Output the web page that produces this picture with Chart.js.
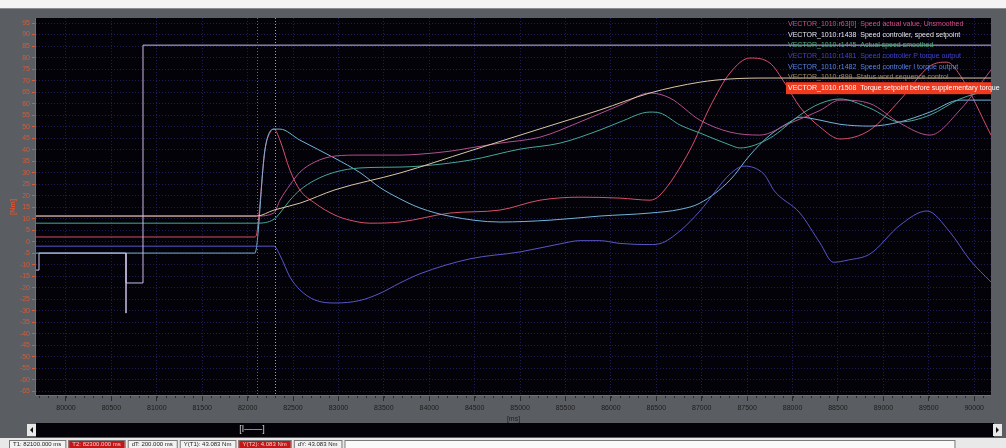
<!DOCTYPE html>
<html>
<head>
<meta charset="utf-8">
<script src="https://cdn.jsdelivr.net/npm/chart.js@4.4.1/dist/chart.umd.min.js"></script>
<style>
html,body{margin:0;padding:0;background:#5a5d62;overflow:hidden}
#wrap{position:relative;width:1006px;height:448px}
</style>
</head>
<body>
<div id="wrap"><canvas id="trace" width="1006" height="448"></canvas></div>
<script>
// axis ticks
const xTicks = [80000,80500,81000,81500,82000,82500,83000,83500,84000,84500,85000,85500,86000,86500,87000,87500,88000,88500,89000,89500,90000];
const yTicks = [95,90,85,80,75,70,65,60,55,50,45,40,35,30,25,20,15,10,5,0,-5,-10,-15,-20,-25,-30,-35,-40,-45,-50,-55,-60,-65];
const xMin = 79670, xMax = 90185;
const yMin = -66.7, yMax = 97.2;

// measuring cursors [ms]
const cursorT1 = 82100;
const cursorT2 = 82300;

// r63[0] speed actual value, unsmoothed
const tR63 = [79670,82100,82290,82356,82466,82576,82741,82962,83237,83677,83898,84228,84448,84778,85219,85659,86100,86430,86650,86980,87311,87640,87971,88302,88522,88852,89182,89513,89843,90185];
const vR63 = [11.1,11.1,12.5,18,24.6,30.2,34.6,37.2,37.6,37.6,38,39.3,40.7,42.8,45.4,52,59.3,64.6,62.4,52.8,47.6,46.3,51.5,57,61.5,60,51.5,46.3,57.2,74.6];

// r1438 speed controller, speed setpoint (step)
const tR1438 = [79670,79703,79703,80661,80661,80661,80848,80848,90185];
const vR1438 = [-12.4,-12.4,-5,-5,-31.1,-18,-18,85.4,85.4];

// r1445 actual speed smoothed
const tR1445 = [79670,82100,82290,82356,82466,82576,82741,82962,83237,83677,83898,84448,84999,85439,85879,86100,86430,86540,86760,86980,87311,87420,87751,88081,88302,88522,88852,89182,89513,89843,90185];
const vR1445 = [8,8,9.7,12.4,18,22.4,26.7,30.2,32,32.4,32.8,35.4,40.2,42.8,48.5,52,56.3,55.9,50.7,47.2,42,40.7,45,55,60,62,58,52,55,62,66];

// r1481 speed controller P torque output
const tR1481 = [79670,82250,82290,82356,82466,82576,82741,82962,83237,83457,83677,83898,84448,84999,85439,85659,85879,86100,86430,86540,86760,86980,87311,87465,87685,87800,88081,88302,88450,88615,88852,89182,89480,89733,89953,90185];
const vR1481 = [-2,-2,-2,-5.9,-15.4,-21,-25.4,-26.7,-25.6,-22.5,-18,-14,-7.5,-4.5,-1,0.4,0.4,-0.8,-1.3,-0.9,4.6,13.3,29.3,32.8,29.3,22,12.4,-0.6,-9,-8,-5.4,7.1,13.3,4.1,-8,-17.6];

// r1482 speed controller I torque output
const tR1482 = [79670,82080,82191,82290,82356,82576,82962,83237,83457,83677,83898,84228,84778,85329,85879,86430,86760,86980,87311,87531,87751,87971,88081,88302,88522,88852,89182,89513,89843,90185];
const vR1482 = [-5,-5,40,48.9,48.9,44.1,36.2,30,23.5,18.6,14.6,11,8.5,9.3,11.1,12.4,14,16.7,26.7,37.6,46.3,52,54.1,52.8,51,50.2,52,56.3,61.5,61.5];

// r899 status word sequence control
const tR899 = [79670,82100,82290,82576,82962,83677,84448,85219,85879,86430,86980,87311,87751,90185];
const vR899 = [11.1,11.1,13.7,16.7,22.5,29.8,39.4,49,57.2,64.6,69.3,70.7,71.1,71.1];

// r1508 torque setpoint before supplementary torque
const tR1508 = [79670,82080,82103,82191,82250,82290,82356,82466,82576,82741,82962,83127,83347,83677,84228,84778,85219,85659,86100,86430,86540,86870,87090,87311,87531,87751,87915,88081,88302,88522,88852,89182,89513,89700,89843,90185];
const vR1508 = [2,2,4,39.8,47.6,48.9,44.1,31,22.4,16.7,11.5,9.3,8,8.5,12.4,13.7,18,19.3,18.9,18,20.2,39.8,58.5,73.3,79.8,77.6,68.9,58.5,49.8,44.6,48.5,61.5,76.3,78,72.4,46.3];

const legendRows = [
  {name: 'VECTOR_1010.r63[0]', text: 'Speed actual value, Unsmoothed', color: '#d4508a'},
  {name: 'VECTOR_1010.r1438', text: 'Speed controller, speed setpoint', color: '#e6e6e6'},
  {name: 'VECTOR_1010.r1445', text: 'Actual speed smoothed', color: '#4fb07e'},
  {name: 'VECTOR_1010.r1481', text: 'Speed controller P torque output', color: '#4040d4'},
  {name: 'VECTOR_1010.r1482', text: 'Speed controller I torque output', color: '#5a86e6'},
  {name: 'VECTOR_1010.r899', text: 'Status word sequence control', color: '#a08e6c'},
  {name: 'VECTOR_1010.r1508', text: 'Torque setpoint before supplementary torque', color: '#ffffff'}
];

const statusBoxes = [
  {text: 'T1: 82100.000 ms', bg: '#f2f2f2', fg: '#222'},
  {text: 'T2: 82300.000 ms', bg: '#c01818', fg: '#f0d0d0'},
  {text: 'dT: 200.000 ms', bg: '#f2f2f2', fg: '#222'},
  {text: 'Y(T1): 43.083 Nm', bg: '#f2f2f2', fg: '#222'},
  {text: 'Y(T2): 4.083 Nm', bg: '#c01818', fg: '#f0d0d0'},
  {text: 'dY: 43.083 Nm', bg: '#f2f2f2', fg: '#222'}
];

function pts(ts, vs) {
  return ts.map((t, i) => ({x: t, y: vs[i]}));
}

function line(label, ts, vs, color, stepped) {
  return {
    label: label,
    data: pts(ts, vs),
    borderColor: color,
    backgroundColor: color,
    borderWidth: 1,
    pointRadius: 0,
    fill: false,
    tension: stepped ? 0 : 0.4,
    cubicInterpolationMode: stepped ? 'default' : 'monotone'
  };
}

// background, legend, cursors, scrollbar, status bar
const scopePlugin = {
  id: 'scope',
  beforeDraw(chart) {
    const ctx = chart.ctx, a = chart.chartArea;
    ctx.save();
    ctx.fillStyle = '#5a5d62';
    ctx.fillRect(0, 0, chart.width, chart.height);
    ctx.fillStyle = '#f4f4f4';
    ctx.fillRect(0, 0, chart.width, 8);
    ctx.fillStyle = '#8a8d92';
    ctx.fillRect(0, 8, chart.width, 1);
    ctx.fillStyle = '#020208';
    ctx.fillRect(a.left, a.top, a.right - a.left, a.bottom - a.top);
    ctx.restore();
  },
  afterDatasetsDraw(chart) {
    const ctx = chart.ctx, a = chart.chartArea;
    const xs = chart.scales.x;
    ctx.save();

    // cursors
    ctx.lineWidth = 1;
    ctx.setLineDash([1, 2]);
    [[cursorT1, '#7656b4'], [cursorT2, '#a898dc']].forEach(([t, c]) => {
      const px = Math.round(xs.getPixelForValue(t)) + 0.5;
      ctx.strokeStyle = c;
      ctx.beginPath();
      ctx.moveTo(px, a.top);
      ctx.lineTo(px, a.bottom);
      ctx.stroke();
    });
    ctx.setLineDash([]);

    // axis frame
    ctx.strokeStyle = '#7c6a78';
    ctx.beginPath();
    ctx.moveTo(a.left - 0.5, a.top);
    ctx.lineTo(a.left - 0.5, a.bottom + 0.5);
    ctx.lineTo(a.right, a.bottom + 0.5);
    ctx.stroke();

    // minor ticks on time axis
    ctx.strokeStyle = '#2a2a2a';
    for (let t = 79700; t < xMax; t += 100) {
      const px = Math.round(xs.getPixelForValue(t)) + 0.5;
      ctx.beginPath();
      ctx.moveTo(px, a.bottom + 1);
      ctx.lineTo(px, a.bottom + 3);
      ctx.stroke();
    }

    // legend
    ctx.font = '7px "Liberation Sans", sans-serif';
    ctx.textBaseline = 'middle';
    const lx = 788;
    legendRows.forEach((r, i) => {
      const ly = 24 + i * 10.7;
      if (i === legendRows.length - 1) {
        ctx.fillStyle = '#f03a20';
        ctx.fillRect(lx - 2, ly - 6, a.right - lx + 2, 12);
      }
      ctx.fillStyle = r.color;
      ctx.fillText(r.name + '  ' + r.text, lx, ly);
    });

    // units
    ctx.fillStyle = '#e0522e';
    ctx.font = 'bold 7px "Liberation Sans", sans-serif';
    ctx.save();
    ctx.translate(13, 207);
    ctx.rotate(-Math.PI / 2);
    ctx.textAlign = 'center';
    ctx.fillText('[Nm]', 0, 0);
    ctx.restore();
    ctx.fillStyle = '#1e1e1e';
    ctx.font = '7px "Liberation Sans", sans-serif';
    ctx.textAlign = 'center';
    ctx.fillText('[ms]', (a.left + a.right) / 2, 419);

    // scrollbar
    ctx.fillStyle = '#020208';
    ctx.fillRect(a.left, 423, a.right - a.left + 3, 14);
    ctx.fillStyle = '#e8e8e8';
    ctx.fillRect(27, 424, 9, 12);
    ctx.fillRect(a.right + 2, 424, 9, 12);
    ctx.fillStyle = '#111';
    ctx.beginPath();
    ctx.moveTo(33, 427); ctx.lineTo(30, 430); ctx.lineTo(33, 433); ctx.fill();
    ctx.beginPath();
    ctx.moveTo(a.right + 5, 427); ctx.lineTo(a.right + 8, 430); ctx.lineTo(a.right + 5, 433); ctx.fill();
    ctx.fillStyle = '#d8d8d8';
    ctx.font = '9px "Liberation Sans", sans-serif';
    ctx.fillText('[ǀ——]', 252, 430);

    // status bar
    ctx.fillStyle = '#e9e9e9';
    ctx.fillRect(0, 438, chart.width, 10);
    ctx.font = '6px "Liberation Sans", sans-serif';
    ctx.textAlign = 'left';
    let bx = 9;
    statusBoxes.forEach(b => {
      const w = ctx.measureText(b.text).width + 8;
      ctx.fillStyle = b.bg;
      ctx.fillRect(bx, 440, w, 8);
      ctx.strokeStyle = '#7a7a7a';
      ctx.strokeRect(bx + 0.5, 440.5, w, 8);
      ctx.fillStyle = b.fg;
      ctx.fillText(b.text, bx + 4, 444.5);
      bx += w + 3;
    });
    ctx.fillStyle = '#fafafa';
    ctx.fillRect(bx, 440, 610, 8);
    ctx.strokeRect(bx + 0.5, 440.5, 610, 8);
    ctx.restore();
  }
};

new Chart(document.getElementById('trace'), {
  type: 'line',
  data: {
    datasets: [
      line('VECTOR_1010.r1438', tR1438, vR1438, '#cbbde6', true),
      line('VECTOR_1010.r899', tR899, vR899, '#d8c7a2', false),
      line('VECTOR_1010.r1445', tR1445, vR1445, '#47a898', false),
      line('VECTOR_1010.r63[0]', tR63, vR63, '#b2508e', false),
      line('VECTOR_1010.r1481', tR1481, vR1481, '#5a56c8', false),
      line('VECTOR_1010.r1482', tR1482, vR1482, '#73b4d8', false),
      line('VECTOR_1010.r1508', tR1508, vR1508, '#d8506a', false)
    ]
  },
  options: {
    responsive: false,
    animation: false,
    events: [],
    layout: {padding: {top: 18, right: 15, left: 0, bottom: 0}},
    plugins: {legend: {display: false}, tooltip: {enabled: false}},
    scales: {
      x: {
        type: 'linear',
        min: xMin,
        max: xMax,
        afterFit: s => { s.height = 53; },
        afterBuildTicks: s => { s.ticks = xTicks.map(v => ({value: v})); },
        grid: {color: 'rgba(34,34,96,0.85)', tickColor: '#2a2a2a', tickLength: 6},
        border: {display: false, dash: [1, 2]},
        ticks: {
          color: '#1c1c1c',
          font: {size: 7, family: 'Liberation Sans Narrow, Liberation Sans, sans-serif'},
          padding: 3,
          maxRotation: 0,
          autoSkip: false,
          callback: v => String(v)
        }
      },
      y: {
        type: 'linear',
        min: yMin,
        max: yMax,
        afterFit: s => { s.width = 36; },
        afterBuildTicks: s => { s.ticks = yTicks.map(v => ({value: v})); },
        grid: {color: 'rgba(34,34,96,0.85)', tickColor: '#d0603c', tickLength: 4},
        border: {display: false, dash: [1, 2]},
        ticks: {
          color: '#d85a36',
          font: {size: 7, family: 'Liberation Sans Narrow, Liberation Sans, sans-serif'},
          padding: 2,
          autoSkip: false
        }
      }
    }
  },
  plugins: [scopePlugin]
});
</script>
</body>
</html>
